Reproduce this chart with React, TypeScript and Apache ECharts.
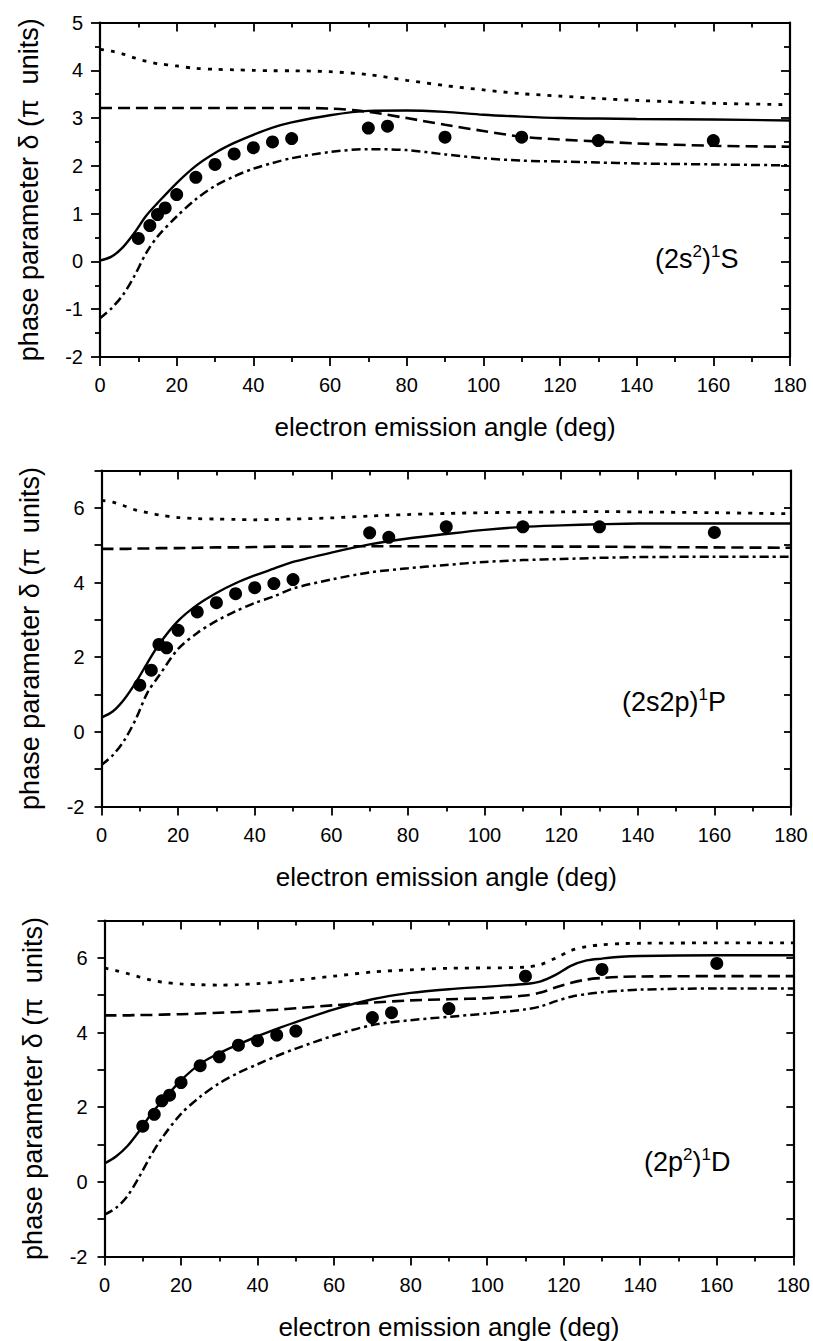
import React, { useEffect, useRef } from 'react';
import * as echarts from 'echarts';

const FONT = '"Liberation Sans", Arial, Helvetica, sans-serif';

// experimental angles (deg) and measured phase parameters (pi units)
const angleExp = [10, 13, 15, 17, 20, 25, 30, 35, 40, 45, 50, 70, 75, 90, 110, 130, 160];
const expS = [0.48, 0.75, 0.98, 1.12, 1.40, 1.76, 2.03, 2.25, 2.38, 2.50, 2.57, 2.79, 2.83, 2.60, 2.60, 2.53, 2.53];
const expP = [1.25, 1.65, 2.34, 2.25, 2.72, 3.21, 3.46, 3.70, 3.86, 3.97, 4.08, 5.33, 5.21, 5.49, 5.49, 5.49, 5.34];
const expD = [1.49, 1.81, 2.17, 2.32, 2.66, 3.11, 3.35, 3.66, 3.78, 3.93, 4.04, 4.40, 4.53, 4.64, 5.51, 5.69, 5.85];

// theory curves, panels (2s^2)1S and (2s2p)1P
const thetaA = [0, 3, 6, 9, 12, 15, 20, 25, 30, 35, 40, 45, 50, 60, 70, 80, 90, 100, 110, 120, 130, 140, 160, 180];
const solidS = [0.02, 0.10, 0.30, 0.60, 0.95, 1.22, 1.64, 2.00, 2.27, 2.48, 2.65, 2.80, 2.91, 3.06, 3.15, 3.16, 3.13, 3.07, 3.03, 3.00, 2.99, 2.98, 2.97, 2.95];
const dashS = [3.21, 3.21, 3.21, 3.21, 3.21, 3.21, 3.21, 3.21, 3.21, 3.21, 3.21, 3.21, 3.21, 3.20, 3.13, 3.00, 2.86, 2.73, 2.61, 2.55, 2.51, 2.47, 2.42, 2.40];
const dotS = [4.44, 4.40, 4.34, 4.26, 4.19, 4.14, 4.09, 4.04, 4.02, 4.01, 4.00, 3.99, 3.99, 3.97, 3.91, 3.79, 3.68, 3.59, 3.51, 3.46, 3.41, 3.37, 3.31, 3.28];
const dashDotS = [-1.19, -0.98, -0.70, -0.30, 0.17, 0.52, 0.94, 1.30, 1.58, 1.78, 1.94, 2.06, 2.16, 2.29, 2.35, 2.33, 2.24, 2.16, 2.11, 2.09, 2.07, 2.05, 2.03, 2.01];

const solidP = [0.38, 0.55, 0.88, 1.33, 1.85, 2.34, 2.97, 3.40, 3.72, 3.98, 4.19, 4.37, 4.55, 4.80, 5.02, 5.18, 5.30, 5.41, 5.49, 5.53, 5.56, 5.58, 5.58, 5.58];
const dashP = [4.90, 4.90, 4.90, 4.91, 4.91, 4.92, 4.92, 4.93, 4.94, 4.94, 4.95, 4.96, 4.96, 4.97, 4.97, 4.97, 4.97, 4.97, 4.97, 4.96, 4.96, 4.95, 4.94, 4.93];
const dotP = [6.20, 6.15, 6.05, 5.94, 5.87, 5.81, 5.74, 5.71, 5.70, 5.69, 5.68, 5.69, 5.70, 5.73, 5.78, 5.82, 5.85, 5.87, 5.88, 5.89, 5.90, 5.89, 5.87, 5.84];
const dashDotP = [-0.89, -0.62, -0.22, 0.35, 1.05, 1.50, 2.22, 2.65, 2.97, 3.23, 3.45, 3.63, 3.84, 4.08, 4.27, 4.38, 4.47, 4.55, 4.60, 4.63, 4.66, 4.68, 4.69, 4.69];

// theory curves, panel (2p^2)1D
const thetaB = [0, 3, 6, 9, 12, 15, 20, 25, 30, 35, 40, 45, 50, 60, 70, 80, 90, 100, 110, 114, 118, 122, 126, 130, 135, 140, 160, 180];
const solidD = [0.49, 0.68, 0.96, 1.35, 1.79, 2.16, 2.72, 3.16, 3.45, 3.68, 3.90, 4.10, 4.28, 4.62, 4.89, 5.06, 5.16, 5.23, 5.30, 5.37, 5.55, 5.79, 5.93, 5.98, 6.03, 6.05, 6.07, 6.07];
const dashD = [4.46, 4.46, 4.46, 4.47, 4.47, 4.48, 4.49, 4.51, 4.53, 4.55, 4.58, 4.61, 4.65, 4.73, 4.80, 4.86, 4.89, 4.92, 4.99, 5.07, 5.21, 5.33, 5.42, 5.46, 5.49, 5.50, 5.51, 5.51];
const dotD = [5.73, 5.66, 5.58, 5.49, 5.41, 5.35, 5.30, 5.28, 5.27, 5.28, 5.31, 5.35, 5.40, 5.51, 5.62, 5.68, 5.72, 5.73, 5.75, 5.82, 6.00, 6.20, 6.30, 6.35, 6.38, 6.39, 6.40, 6.40];
const dashDotD = [-0.88, -0.70, -0.38, 0.12, 0.68, 1.17, 1.82, 2.28, 2.64, 2.92, 3.15, 3.37, 3.57, 3.92, 4.20, 4.33, 4.42, 4.51, 4.62, 4.70, 4.84, 4.96, 5.03, 5.08, 5.12, 5.15, 5.18, 5.18];

const xTitle = 'electron emission angle (deg)';
const yTitle = 'phase parameter \u03b4 (\u03c0  units)';

const zip = (xs: number[], ys: number[]) => xs.map((x, i) => [x, ys[i]]);

const panels = [
  {
    grid: { left: 100, top: 22.5, width: 690, height: 334.5 },
    yMax: 5, yMinor: true,
    theta: thetaA, solid: solidS, dash: dashS, dot: dotS, dashDot: dashDotS, exp: expS,
    label: '{a|(2s}{b|2}{a|)}{b|1}{a|S}', labelPos: [655, 243],
  },
  {
    grid: { left: 101.5, top: 470.5, width: 689.5, height: 336 },
    yMax: 7, yMinor: false,
    theta: thetaA, solid: solidP, dash: dashP, dot: dotP, dashDot: dashDotP, exp: expP,
    label: '{a|(2s2p)}{b|1}{a|P}', labelPos: [622, 686],
  },
  {
    grid: { left: 104.5, top: 920.5, width: 689.5, height: 336 },
    yMax: 7, yMinor: false,
    theta: thetaB, solid: solidD, dash: dashD, dot: dotD, dashDot: dashDotD, exp: expD,
    label: '{a|(2p}{b|2}{a|)}{b|1}{a|D}', labelPos: [644, 1146],
  },
];

export default function App() {
  const ref = useRef<HTMLDivElement>(null);

  useEffect(() => {
    if (!ref.current) return;
    const chart = echarts.init(ref.current, undefined, { renderer: 'svg' });
    const black = '#000';
    const grids: any[] = [];
    const xAxes: any[] = [];
    const yAxes: any[] = [];
    const series: any[] = [];
    const graphics: any[] = [];

    panels.forEach((p, i) => {
      grids.push({ ...p.grid, containLabel: false });
      const baseX = {
        type: 'value', gridIndex: i, min: 0, max: 180, interval: 20,
        splitLine: { show: false },
        axisLine: { show: true, onZero: false, lineStyle: { color: black, width: 2.2 } },
      };
      xAxes.push({
        ...baseX, position: 'bottom',
        axisTick: { show: true, length: 9, lineStyle: { color: black, width: 1.8 } },
        minorTick: { show: true, splitNumber: 2, length: 5, lineStyle: { color: black, width: 1.8 } },
        axisLabel: { color: black, fontSize: 20, fontFamily: FONT, margin: 18 },
        name: xTitle, nameLocation: 'middle', nameGap: 57,
        nameTextStyle: { color: black, fontSize: 26, fontFamily: FONT },
      });
      xAxes.push({
        ...baseX, position: 'top',
        axisTick: { show: true, inside: true, length: 9, lineStyle: { color: black, width: 1.8 } },
        minorTick: { show: true, splitNumber: 2, length: 5, lineStyle: { color: black, width: 1.8 } },
        axisLabel: { show: false },
      });
      const baseY = {
        type: 'value', gridIndex: i, min: -2, max: p.yMax, interval: 1,
        splitLine: { show: false },
        axisLine: { show: true, onZero: false, lineStyle: { color: black, width: 2.2 } },
      };
      const tickLen = p.yMinor ? 9 : 7;
      yAxes.push({
        ...baseY, position: 'left',
        axisTick: { show: true, length: tickLen, lineStyle: { color: black, width: 1.8 } },
        minorTick: { show: p.yMinor, splitNumber: 2, length: 5, lineStyle: { color: black, width: 1.8 } },
        axisLabel: {
          color: black, fontSize: 20, fontFamily: FONT, margin: 17,
          formatter: (v: number) => (p.yMinor ? String(v) : (v % 2 === 0 && v < p.yMax ? String(v) : '')),
        },
        name: yTitle, nameLocation: 'middle', nameGap: 58, nameRotate: 90,
        nameTextStyle: { color: black, fontSize: 27, fontFamily: FONT },
      });
      yAxes.push({
        ...baseY, position: 'right',
        axisTick: { show: true, inside: true, length: tickLen, lineStyle: { color: black, width: 1.8 } },
        minorTick: { show: p.yMinor, splitNumber: 2, length: 6, lineStyle: { color: black, width: 1.8 } },
        axisLabel: { show: false },
      });

      const xi = 2 * i;
      const yi = 2 * i;
      const lineBase = {
        type: 'line', xAxisIndex: xi, yAxisIndex: yi, showSymbol: false, symbol: 'none',
        smooth: 0.3, silent: true, z: 2,
      };
      series.push({ ...lineBase, name: 'solid' + i, data: zip(p.theta, p.solid), lineStyle: { color: black, width: 2.4, type: 'solid' } });
      series.push({ ...lineBase, name: 'dash' + i, data: zip(p.theta, p.dash), lineStyle: { color: black, width: 2.6, type: [12, 6] } });
      series.push({ ...lineBase, name: 'dot' + i, data: zip(p.theta, p.dot), lineStyle: { color: black, width: 2.8, type: [4, 7] } });
      series.push({ ...lineBase, name: 'dashdot' + i, data: zip(p.theta, p.dashDot), lineStyle: { color: black, width: 2.5, type: [9, 4, 3, 4] } });
      series.push({
        type: 'scatter', name: 'exp' + i, xAxisIndex: xi, yAxisIndex: yi,
        data: zip(angleExp, p.exp), symbol: 'circle', symbolSize: 13,
        itemStyle: { color: black, opacity: 1 }, z: 5, silent: true,
      });

      graphics.push({
        type: 'text', left: p.labelPos[0], top: p.labelPos[1], z: 10,
        style: {
          text: p.label, fill: black,
          rich: {
            a: { fontSize: 27, fontFamily: FONT, fill: black },
            b: { fontSize: 17, fontFamily: FONT, fill: black, padding: [0, 0, 15, 0] },
          },
        },
      });
    });

    chart.setOption({
      animation: false,
      backgroundColor: '#fff',
      grid: grids,
      xAxis: xAxes,
      yAxis: yAxes,
      series,
      graphic: graphics,
    });
    return () => chart.dispose();
  }, []);

  return (
    <div
      ref={ref}
      style={{ position: 'absolute', left: 0, top: 0, width: 813, height: 1341, background: '#fff' }}
    />
  );
}
